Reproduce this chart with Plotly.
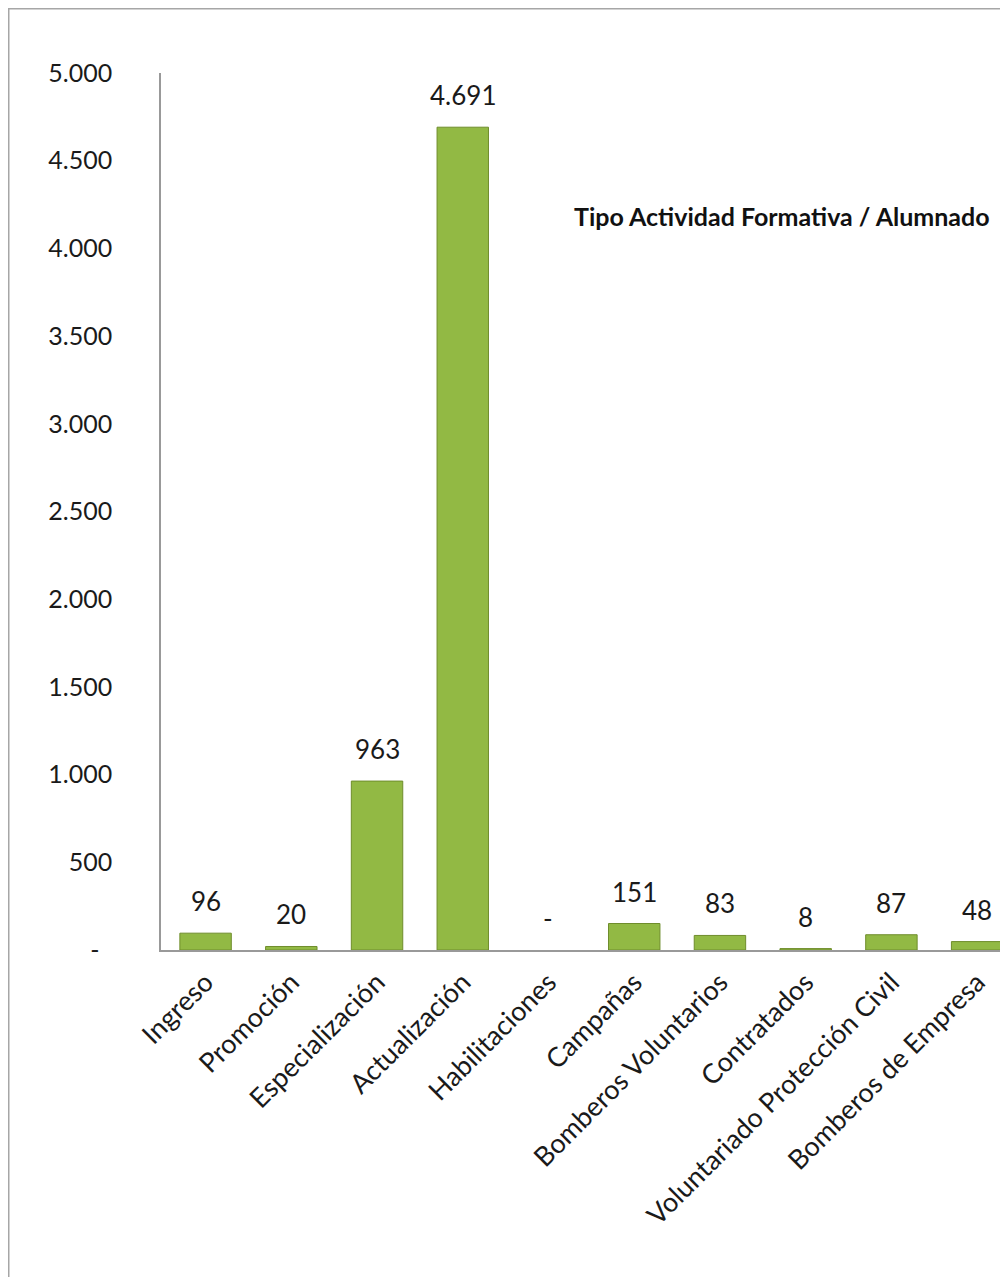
import plotly.graph_objects as go

categories = ["Ingreso", "Promoción", "Especialización", "Actualización", "Habilitaciones",
              "Campañas", "Bomberos Voluntarios", "Contratados",
              "Voluntariado Protección Civil", "Bomberos de Empresa"]
values = [96, 20, 963, 4691, 0, 151, 83, 8, 87, 48]

y_tickvals = [0, 500, 1000, 1500, 2000, 2500, 3000, 3500, 4000, 4500, 5000]
y_ticktext = ["-\u00a0\u00a0", "500", "1.000", "1.500", "2.000", "2.500",
              "3.000", "3.500", "4.000", "4.500", "5.000"]

title_text = "Tipo Actividad Formativa / Alumnado"


def fmt(v):
    return "-" if v == 0 else f"{v:,}".replace(",", ".")


FONT = "Lato, Carlito, Calibri, sans-serif"

# page has an 8px body margin; figure coordinates = page coordinates - 8
OFF = 8
W, H = 1000, 1269
L, R, T, B = 161 - OFF, 0, 73 - OFF, 1277 - 950
pw, ph = W - L - R, H - T - B


def px2x(px):
    return (px - OFF - L) / pw


def py2y(py):
    return (H - B - (py - OFF)) / ph


fig = go.Figure()
fig.add_trace(go.Bar(
    x=categories, y=values, width=0.6,
    marker=dict(color="#92b944",
                line=dict(color="#6f8d2c", width=[0 if v == 0 else 1 for v in values])),
    hoverinfo="x+y",
))

annotations = []
for c, v in zip(categories, values):
    annotations.append(dict(
        x=c, y=v, xref="x", yref="y", text=fmt(v), showarrow=False,
        yanchor="bottom", yshift=14,
        font=dict(family=FONT, size=26, color="#1a1a1a"),
    ))

annotations.append(dict(
    x=px2x(572), y=py2y(216), xref="paper", yref="paper", xanchor="left", yanchor="middle",
    text="<b>" + title_text + "</b>", showarrow=False,
    font=dict(family=FONT, size=25, color="#111111"),
))

shapes = [
    dict(type="line", xref="paper", yref="paper",
         x0=px2x(8.75), x1=px2x(8.75), y0=py2y(8.75), y1=py2y(1290),
         line=dict(color="#a6a6a6", width=1.5)),
    dict(type="line", xref="paper", yref="paper",
         x0=px2x(8), x1=px2x(1010), y0=py2y(8.75), y1=py2y(8.75),
         line=dict(color="#a6a6a6", width=1.5)),
]

fig.update_layout(
    width=W, height=H,
    margin=dict(l=L, r=R, t=T, b=B, pad=0),
    paper_bgcolor="white", plot_bgcolor="white",
    showlegend=False,
    annotations=annotations,
    shapes=shapes,
    font=dict(family=FONT, color="#1a1a1a"),
    xaxis=dict(
        range=[-0.52, 9.36], showline=True, linecolor="#999999", linewidth=1.5,
        showgrid=False, zeroline=False, ticks="", tickangle=-45,
        tickfont=dict(family=FONT, size=27, color="#1a1a1a"),
        ticklabelstandoff=4,
    ),
    yaxis=dict(
        range=[0, 5000], showline=True, linecolor="#999999", linewidth=1.5,
        showgrid=False, zeroline=False, ticks="",
        tickvals=y_tickvals, ticktext=y_ticktext,
        tickfont=dict(family=FONT, size=25, color="#1a1a1a"),
        ticklabelstandoff=42,
    ),
)

fig.write_html("out.html")
